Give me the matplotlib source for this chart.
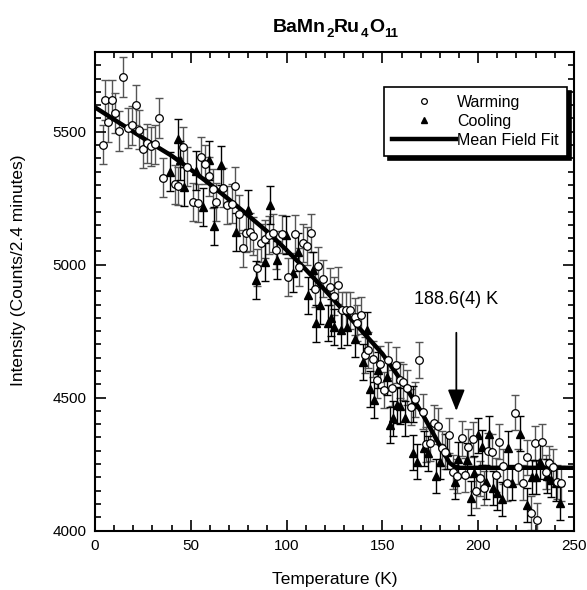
import numpy as np
import matplotlib
matplotlib.use("Agg")
import matplotlib.pyplot as plt
from matplotlib.ticker import MultipleLocator

plt.rcParams['font.family'] = ['Liberation Sans', 'DejaVu Sans']

# Warming data (open circles)
warm_T = [4.0, 5.2, 6.9, 8.7, 10.4, 12.7, 14.8, 17.0, 19.1, 21.2, 23.1, 25.2, 27.0, 29.2,
          31.3, 33.6, 35.6, 41.8, 43.5, 45.8, 47.8, 51.3, 54.0, 55.2, 57.4, 59.7, 61.4,
          63.2, 67.0, 69.0, 71.3, 73.0, 75.2, 77.1, 78.8, 80.9, 82.6, 84.7, 86.8, 89.0,
          91.0, 93.0, 94.5, 97.4, 100.9, 104.4, 106.6, 108.7, 110.5, 112.6, 114.8, 116.5,
          119.2, 122.6, 124.7, 127.0, 128.7, 131.0, 133.1, 135.7, 136.6, 138.7, 140.9,
          142.6, 144.9, 147.0, 148.7, 150.8, 153.1, 154.8, 156.9, 159.2, 160.9, 162.7,
          164.8, 167.0, 169.3, 171.4, 172.8, 174.8, 177.0, 179.2, 181.0, 182.7, 184.9,
          187.0, 189.1, 191.4, 193.2, 194.8, 197.1, 198.8, 200.9, 203.2, 205.3, 207.4,
          209.1, 211.0, 213.1, 214.9, 219.2, 220.9, 223.2, 225.3, 227.4, 229.6, 230.9,
          233.1, 235.4, 237.1, 239.2, 241.3, 243.2]
warm_I = [5452, 5621, 5537, 5621, 5571, 5503, 5706, 5514, 5524, 5602, 5508, 5437, 5456, 5445,
          5453, 5553, 5328, 5303, 5296, 5443, 5368, 5236, 5232, 5405, 5378, 5333, 5286,
          5236, 5290, 5224, 5230, 5296, 5190, 5061, 5120, 5123, 5107, 4989, 5080, 5095,
          5111, 5120, 5055, 5117, 4954, 5117, 4992, 5082, 5070, 5120, 4910, 4995,
          4948, 4917, 4882, 4923, 4829, 4829, 4829, 4804, 4781, 4810, 4660,
          4679, 4644, 4566, 4626, 4528, 4641, 4535, 4622, 4568, 4559, 4538,
          4465, 4493, 4641, 4447, 4325, 4328, 4405, 4393, 4309, 4296, 4359,
          4221, 4205, 4347, 4209, 4315, 4343, 4150, 4196, 4159, 4300, 4296,
          4209, 4334, 4242, 4177, 4443, 4240, 4180, 4275, 4067, 4328, 4039,
          4334, 4221, 4253, 4240, 4183, 4177]

# Cooling data (filled triangles)
cool_T = [39.1, 43.5, 44.4, 46.5, 52.7, 56.2, 59.7, 62.0, 65.6, 73.6, 80.0, 84.0, 88.7,
          91.3, 95.1, 99.7, 103.5, 106.1, 111.3, 113.6, 115.3, 117.4, 121.8, 123.0, 124.7,
          128.2, 131.3, 135.7, 139.7, 141.8, 143.5, 145.6, 147.9, 152.2, 154.0, 155.7,
          157.5, 159.2, 161.8, 165.8, 166.1, 167.9, 171.7, 174.0, 178.0, 180.0, 183.9,
          187.9, 189.6, 194.3, 196.1, 197.8, 200.0, 202.1, 203.9, 205.8, 207.9, 210.0,
          212.3, 215.7, 217.5, 221.8, 225.6, 227.9, 230.2, 232.3, 236.1, 237.8, 240.6,
          242.7]
cool_I = [5349, 5474, 5393, 5293, 5353, 5217, 5393, 5146, 5374, 5123, 5207, 4942, 5011,
          5224, 5017, 5111, 4967, 5048, 4885, 4979, 4779, 4848, 4781, 4801, 4766,
          4756, 4766, 4722, 4635, 4754, 4531, 4491, 4603, 4578, 4397, 4422,
          4472, 4468, 4422, 4293, 4476, 4259, 4309, 4290, 4205, 4259, 4296,
          4183, 4268, 4265, 4121, 4215, 4359, 4313, 4183, 4363, 4159, 4142,
          4117, 4309, 4180, 4365, 4096, 4202, 4202, 4259, 4205, 4190, 4177,
          4105]

# Mean field fit curve
fit_T = [0, 10, 20, 30, 40, 50, 60, 70, 80, 90, 100, 110, 120, 130, 140, 150, 160, 170,
         180, 185, 188.6, 250]
fit_I = [5592, 5546, 5500, 5454, 5410, 5358, 5303, 5245, 5185, 5124, 5055, 4982, 4905,
         4825, 4745, 4665, 4563, 4450, 4320, 4255, 4236, 4236]

Tc_label = "188.6(4) K"
Tc = 188.6
title_parts = [("BaMn", False), ("2", True), ("Ru", False), ("4", True), ("O", False), ("11", True)]

fig = plt.figure(figsize=(5.87, 5.90), dpi=100)
ax = fig.add_axes([0.1618, 0.1008, 0.816, 0.811])

ax.plot(fit_T, fit_I, color='black', lw=3.2, zorder=2, label='Mean Field Fit')

warm_err = np.sqrt(np.array(warm_I, dtype=float))
cool_err = np.sqrt(np.array(cool_I, dtype=float))
ax.errorbar(warm_T, warm_I, yerr=warm_err, fmt='none', ecolor='#555555', elinewidth=1.0,
            capsize=3, capthick=1.0, zorder=1)
ax.errorbar(cool_T, cool_I, yerr=cool_err, fmt='none', ecolor='black', elinewidth=1.0,
            capsize=3, capthick=1.0, zorder=1)
ax.plot(cool_T, cool_I, ls='none', marker='^', ms=5.5, mfc='black', mec='black', zorder=3,
        label='Cooling')
ax.plot(warm_T, warm_I, ls='none', marker='o', ms=5.5, mfc='white', mec='black', mew=0.9,
        zorder=4, label='Warming')

ax.set_xlim(0, 250)
ax.set_ylim(4000, 5800)
ax.xaxis.set_major_locator(MultipleLocator(50))
ax.xaxis.set_minor_locator(MultipleLocator(10))
ax.yaxis.set_major_locator(MultipleLocator(500))
ax.yaxis.set_minor_locator(MultipleLocator(50))
ax.tick_params(which='both', direction='in', top=True, right=True, width=1.2, labelsize=11)
ax.tick_params(which='major', length=8, pad=6)
ax.tick_params(which='minor', length=4)
for s in ax.spines.values():
    s.set_linewidth(1.5)

ax.set_xlabel('Temperature (K)', fontsize=12.5, labelpad=14)
ax.set_ylabel('Intensity (Counts/2.4 minutes)', fontsize=12.5)
ax.yaxis.set_label_coords(-0.145, 0.545)

# Title with lowered subscripts, built piece by piece
renderer = fig.canvas.get_renderer()
fig_w = fig.get_figwidth() * fig.dpi
fig_h = fig.get_figheight() * fig.dpi
base_y = 1 - 32.0 / fig_h
sub_y = 1 - 37.0 / fig_h
gap = 0.6 / fig_w
x = 0.0
pieces = []
for txt, is_sub in title_parts:
    t = fig.text(x, sub_y if is_sub else base_y, txt, fontsize=9.5 if is_sub else 14,
                 fontweight='bold', va='baseline', ha='left')
    w = t.get_window_extent(renderer).width / fig_w
    pieces.append(t)
    x += w + gap
x -= gap
center = 335.6 / fig_w
start = center - x / 2
for t in pieces:
    px, py = t.get_position()
    t.set_position((px + start, py))

ax.annotate(Tc_label, xy=(Tc, 4450), xytext=(Tc, 4870), ha='center', va='center',
            fontsize=13,
            arrowprops=dict(arrowstyle='-|>,head_width=0.4,head_length=1.0', color='black',
                            lw=1.3, shrinkA=16, shrinkB=0))

handles, labels = ax.get_legend_handles_labels()
order = [labels.index('Warming'), labels.index('Cooling'), labels.index('Mean Field Fit')]
leg = ax.legend([handles[i] for i in order], [labels[i] for i in order],
                loc='upper right', bbox_to_anchor=(0.985, 0.927), borderaxespad=0.0,
                fontsize=11.5,
                frameon=True, fancybox=False, edgecolor='black', framealpha=1,
                shadow={'color': 'black', 'alpha': 1.0, 'ox': 3, 'oy': -3},
                handlelength=4.0, handletextpad=0.1, borderpad=0.5, labelspacing=0.25,
                markerscale=0.75)
leg.get_frame().set_linewidth(1.2)

fig.savefig('out.png', dpi=100)
